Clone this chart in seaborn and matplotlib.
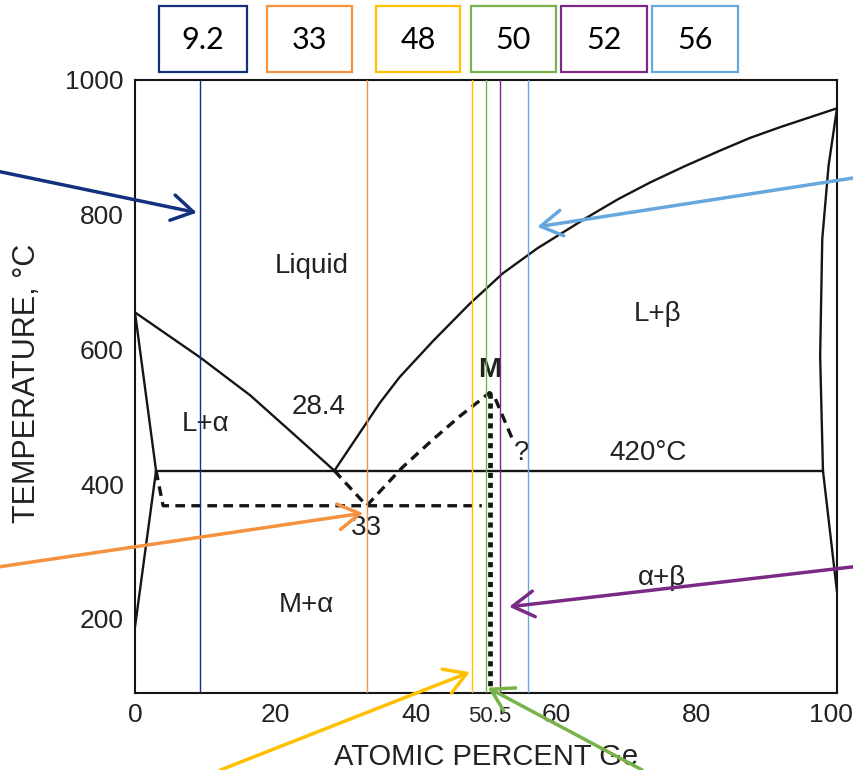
import matplotlib
matplotlib.use("Agg")
import matplotlib.pyplot as plt
import matplotlib.transforms as mtransforms
from matplotlib.patches import Rectangle
import seaborn as sns

# Alloy compositions marked on the diagram (at.% Ge)
compositions = [9.2, 33, 48, 50, 52, 56]
marker_colors = ["#13307F", "#F4923F", "#FFC000", "#78B34A", "#7A2A84", "#66A7DE"]

# Stable phase boundaries (x: at.% Ge, T: degC)
liq_left_x = [0, 9.3, 16.4, 23.5, 28.4]
liq_left_T = [655, 588, 532, 466, 420]
liq_right_x = [28.4, 34.9, 37.7, 42.5, 47.7, 52.4, 57.3, 64.4, 68.8, 73.4,
               78.3, 83.3, 87.6, 91.9, 100]
liq_right_T = [420, 521, 559, 613, 668, 713, 750, 796, 823, 848,
               872, 895, 914, 930, 958]
alpha_solidus_x = [0, 3]
alpha_solidus_T = [655, 420]
alpha_solvus_x = [3, 0]
alpha_solvus_T = [420, 188]
beta_solidus_x = [100, 98.8, 97.9, 97.6, 98]
beta_solidus_T = [958, 873, 764, 590, 420]
beta_solvus_x = [98, 100]
beta_solvus_T = [420, 240]
eutectic_x = [3, 98]
eutectic_T = [420, 420]

# Metastable equilibria with the M phase
meta_alpha_x = [3, 4, 49.4]
meta_alpha_T = [420, 368, 368]
meta_liq_x = [28.4, 33, 38, 42.3, 46.4, 49.1, 50.5, 51.2, 53.8]
meta_liq_T = [420, 368, 424, 465, 502, 524, 536, 530, 466]
m_phase_x = [50.5, 50.5]
m_phase_T = [536, 95]

x_ticks = [0, 20, 40, 60, 80, 100]
y_ticks = [200, 400, 600, 800, 1000]

sns.set_theme(style="white")
plt.rcParams["font.family"] = ["Liberation Sans", "DejaVu Sans"]

W, H = 854, 770
fig = plt.figure(figsize=(W / 100, H / 100), dpi=100)
ax = fig.add_axes([135 / W, 1 - 693 / H, 702 / W, 613 / H])

ink = "#151515"
solid = dict(color=ink, lw=1.7, sort=False, estimator=None, ax=ax)
for xs, ts in [(liq_left_x, liq_left_T), (liq_right_x, liq_right_T),
               (alpha_solidus_x, alpha_solidus_T), (alpha_solvus_x, alpha_solvus_T),
               (beta_solidus_x, beta_solidus_T), (beta_solvus_x, beta_solvus_T),
               (eutectic_x, eutectic_T)]:
    sns.lineplot(x=xs, y=ts, **solid)

dashed = dict(color=ink, lw=2.4, linestyle=(0, (2.9, 1.9)), sort=False,
              estimator=None, ax=ax)
sns.lineplot(x=meta_alpha_x, y=meta_alpha_T, **dashed)
sns.lineplot(x=meta_liq_x, y=meta_liq_T, **dashed)
sns.lineplot(x=m_phase_x, y=m_phase_T, color=ink, lw=3.4,
             linestyle=(0, (1.1, 1.0)), sort=False, estimator=None, ax=ax)

# Composition markers
for v, c in zip(compositions, marker_colors):
    ax.axvline(v, color=c, lw=1.0, zorder=5)

ax.set_xlim(0, 100)
ax.set_ylim(90, 1000)
ax.set_xticks(x_ticks)
ax.set_xticklabels([str(t) for t in x_ticks])
ax.set_xticks([50.5], labels=["50.5"], minor=True)
ax.set_yticks(y_ticks)
ax.set_yticklabels([str(t) for t in y_ticks])
ax.tick_params(axis="x", which="major", direction="in", length=6, width=1.3,
               color=ink, labelsize=19, pad=7, labelcolor="#222222")
ax.tick_params(axis="x", which="minor", length=0, labelsize=16, pad=9,
               labelcolor="#222222")
ax.tick_params(axis="y", length=0, labelsize=19, pad=8, labelcolor="#222222")
# keep the right-most label inside the canvas
last = ax.xaxis.get_major_ticks()[-1].label1
last.set_transform(last.get_transform() +
                   mtransforms.ScaledTranslation(-6 / 100, 0, fig.dpi_scale_trans))
for s in ax.spines.values():
    s.set_color(ink)
    s.set_linewidth(1.5)
ax.grid(False)

ax.set_xlabel("ATOMIC PERCENT Ge", fontsize=21, color="#222222")
ax.set_ylabel("TEMPERATURE, °C", fontsize=22, color="#222222")
ax.xaxis.set_label_coords(0.5, -0.081)
ax.yaxis.set_label_coords(-0.133, 0.505)

txt = dict(fontsize=20, color="#222222", ha="center", va="center")
ax.text(25.2, 724, "Liquid", **txt)
ax.text(10.0, 490, "L+α", **txt)
ax.text(26.1, 514, "28.4", **txt)
ax.text(50.5, 569, "M", fontweight="bold", **txt)
ax.text(55.1, 447, "?", **txt)
ax.text(73.1, 447, "420°C", **txt)
ax.text(33, 335, "33", **txt)
ax.text(74.4, 653, "L+β", **txt)
ax.text(75.1, 261, "α+β", **txt)
ax.text(24.4, 221, "M+α", **txt)

# Value boxes along the top
box_left = [159, 267, 376, 471, 561, 652]
box_right = [247, 352, 460, 556, 647, 738]
for v, c, l, r in zip(compositions, marker_colors, box_left, box_right):
    fig.add_artist(Rectangle((l / W, 1 - 72 / H), (r - l) / W, 66 / H,
                             transform=fig.transFigure, fill=False,
                             edgecolor=c, lw=1.6))
    fig.text((l + r) / 2 / W, 1 - 40 / H, f"{v:g}", ha="center", va="center",
             fontsize=22, family=["Lato", "DejaVu Sans"], color="black")

# Arrows pointing at each composition line
arrow_tails = [(0.0, 0.777), (0.0, 0.264), (0.258, 0.0), (0.752, 0.0),
               (1.0, 0.264), (1.0, 0.769)]
arrow_tips = [(9.2 - 0.4, 803), (33 - 0.5, 357), (48 - 0.3, 121),
              (50.25, 98), (52 + 1.3, 218), (56 + 1.3, 782)]
for c, tail, tip in zip(marker_colors, arrow_tails, arrow_tips):
    ax.annotate("", xy=tip, xycoords="data", xytext=tail,
                textcoords="figure fraction", annotation_clip=False,
                arrowprops=dict(arrowstyle="->,head_length=0.7,head_width=0.42",
                                color=c, lw=2.5, mutation_scale=22,
                                shrinkA=0, shrinkB=0, capstyle="round",
                                joinstyle="round"), zorder=6)

fig.savefig("out.png", dpi=100)
